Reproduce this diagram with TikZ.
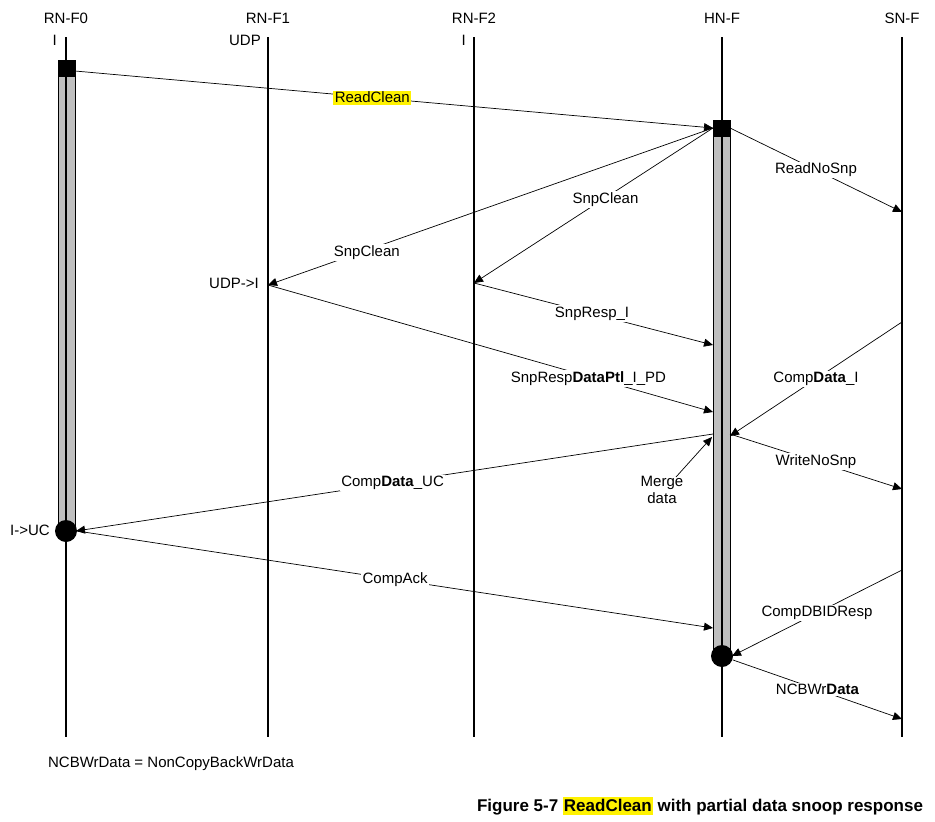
\documentclass[tikz,border=0pt]{standalone}
\usepackage{fontspec}
\setmainfont{Liberation Sans}
\usetikzlibrary{arrows.meta}

\begin{document}
\begin{tikzpicture}[x=1pt,y=-1pt,
  font=\fontsize{15}{17}\selectfont,
  life/.style={line width=2pt},
  msg/.style={line width=0.7pt,-{Triangle[length=9pt,width=8pt]}},
  lbl/.style={fill=white,inner sep=1.5pt},
  bar/.style={draw,line width=0.8pt,fill=black!25}]
  \useasboundingbox (0,0) rectangle (935,822);
  % activation bars
  \draw[bar] (58,60) rectangle (75,531);
  \draw[bar] (713,120) rectangle (730,656);
  % lifelines
  \foreach \name/\x/\txt in {f0/66/RN-F0,f1/268/RN-F1,f2/474/RN-F2,hn/722/HN-F,sn/902/SN-F}{
    \node (h\name) at (\x,18) {\txt};
    \draw[life] (\x,37) -- (\x,737);
  }
  \node[anchor=east,inner sep=1pt] (s0) at (58,40) {I};
  \node[anchor=east,inner sep=1pt] (s1) at (262,40) {UDP};
  \node[anchor=east,inner sep=1pt] (s2) at (467,40) {I};
  % start/end markers
  \fill (58,60) rectangle (75,77);
  \fill (713,120) rectangle (730,137);
  \node[circle,fill,minimum size=22pt,inner sep=0pt] (c0) at (66,531) {};
  \node[circle,fill,minimum size=22pt,inner sep=0pt] (chn) at (722,656) {};
  % message end points
  \coordinate (rc0) at (75,71);
  \coordinate (rcin) at (713,128);
  \coordinate (rcout) at (730,128);
  \coordinate (u1) at (268,285);
  \coordinate (u2) at (474,283);
  \coordinate (rnsp) at (902,212);
  \coordinate (sr) at (713,345);
  \coordinate (srd) at (713,412);
  \coordinate (cdi0) at (902,322);
  \coordinate (cdi) at (730,436);
  \coordinate (wns0) at (730,434);
  \coordinate (wns) at (902,489);
  \coordinate (cdu0) at (713,434);
  \coordinate (cdu) at (76,531);
  \coordinate (ca) at (713,628);
  \coordinate (cdb0) at (902,570);
  \coordinate (cdb) at (732,656);
  \coordinate (ncb0) at (733,660);
  \coordinate (ncb) at (902,719);
  \coordinate (mfrom) at (676,477);
  \coordinate (mto) at (712,437);
  % messages
  \draw[msg] (rc0) -- (rcin) node[lbl,fill=yellow,pos=0.466] {ReadClean};
  \draw[msg] (rcin) -- (u1) node[lbl,pos=0.778,yshift=-2pt] {SnpClean};
  \draw[msg] (rcin) -- (u2) node[lbl,pos=0.45,yshift=-2pt] {SnpClean};
  \draw[msg] (rcout) -- (rnsp) node[lbl,pos=0.5] {ReadNoSnp};
  \draw[msg] (u2) -- (sr) node[lbl,pos=0.494] {SnpResp\_I};
  \draw[msg] (u1) -- (srd) node[lbl,pos=0.72,yshift=-2pt] {SnpResp\textbf{DataPtl}\_I\_PD};
  \draw[msg] (cdi0) -- (cdi) node[lbl,pos=0.5] {Comp\textbf{Data}\_I};
  \draw[msg] (wns0) -- (wns) node[lbl,pos=0.5] {WriteNoSnp};
  \draw[msg] (cdu0) -- (cdu) node[lbl,pos=0.503] {Comp\textbf{Data}\_UC};
  \draw[msg] (c0.east) -- (ca) node[lbl,pos=0.5] {CompAck};
  \draw[msg] (cdb0) -- (cdb) node[lbl,pos=0.5] {CompDBIDResp};
  \draw[msg] (ncb0) -- (ncb) node[lbl,pos=0.5] {NCBWr\textbf{Data}};
  \node[align=center] (merge) at (662,490) {Merge\\data};
  \draw[msg] (mfrom) -- (mto);
  % state labels
  \node (st1) at (234,283) {UDP->I};
  \node (st0) at (30,530) {I->UC};
  % notes
  \node (note) at (171,764) {NCBWrData = NonCopyBackWrData};
  \node[font=\fontsize{17}{19}\selectfont\bfseries] (cap) at (700,806)
    {Figure 5-7 \colorbox{yellow}{\kern-2pt ReadClean\kern-2pt} with partial data snoop response};
\end{tikzpicture}
\end{document}
